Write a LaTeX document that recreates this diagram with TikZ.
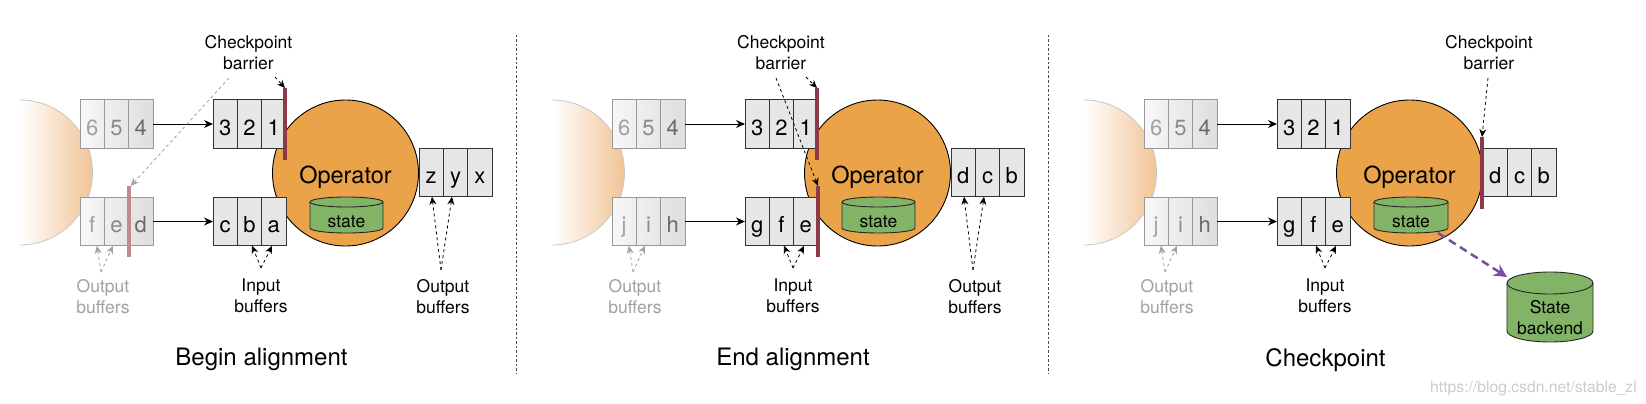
\documentclass[tikz,border=0pt]{standalone}
\usepackage{fontspec}
\setmainfont{TeX Gyre Heros}
\usetikzlibrary{arrows.meta}
\definecolor{opfill}{RGB}{235,163,74}
\definecolor{stgreen}{RGB}{130,179,102}
\definecolor{barr}{RGB}{140,58,72}
\definecolor{barrfade}{RGB}{192,138,147}
\definecolor{peach}{RGB}{241,196,150}
\definecolor{purp}{RGB}{118,80,160}
\definecolor{cellfill}{RGB}{230,230,230}
\tikzset{
  bufcell/.style={draw=black!80, line width=0.9pt, fill=cellfill, minimum width=24.33pt, minimum height=48.5pt, inner sep=0pt, outer sep=0pt, text height=22pt, text depth=0pt, font=\fontsize{22}{26}\selectfont},
  fadecell/.style={bufcell, draw=black!40, fill=none},
  opnode/.style={circle, draw=black, line width=0.9pt, fill=opfill, minimum size=146pt, inner sep=0pt, text height=20.6pt, text depth=0pt, font=\fontsize{23.5}{28}\selectfont},
  barrier/.style={rectangle, fill=barr, draw=none, minimum width=4pt, inner sep=0pt, outer sep=0pt},
  fbarrier/.style={barrier, fill=barrfade},
  lbl/.style={anchor=north, inner sep=0pt, align=center, font=\fontsize{17.5}{21}\selectfont},
  flbl/.style={lbl, text=black!37},
  ttl/.style={anchor=north, inner sep=0pt, font=\fontsize{24}{28}\selectfont},
  flow/.style={draw=black, line width=0.9pt, -{Stealth[length=9pt,width=8pt]}},
  pdash/.style={draw=black, line width=0.8pt, dash pattern=on 3pt off 3pt, -{Stealth[length=8pt,width=7pt]}},
  fdash/.style={pdash, draw=black!37},
  purpdash/.style={draw=purp, line width=2.5pt, dash pattern=on 8pt off 5pt, -{Stealth[length=13pt,width=13pt]}},
  divider/.style={draw=black!70, line width=0.9pt, dash pattern=on 2.5pt off 2pt},
  cyltext/.style={inner sep=0pt, align=center, font=\fontsize{17.5}{21}\selectfont}
}
\newcommand\threecells[7]{%
  \node[#4] (#1a) at (#2+12.17,#3) {#5};
  \node[#4] (#1b) at (#2+36.5,#3) {#6};
  \node[#4] (#1c) at (#2+60.83,#3) {#7};}
\newcommand\fadebuf[6]{%
  \shade[left color=black!3, right color=black!13] (#2,#3-24.25) rectangle (#2+73,#3+24.25);
  \threecells{#1}{#2}{#3}{fadecell}{\color{black!37}#4}{\color{black!46}#5}{\color{black!58}#6}}
\newcommand\source[1]{%
  \begin{scope}
    \clip (#1+20,90) rectangle (#1+100,260);
    \clip (#1+20,172.5) circle[radius=72.5pt];
    \shade[left color=white, right color=peach] (#1+20,100) rectangle (#1+92.5,245);
  \end{scope}
  \begin{scope}
    \clip (#1+20,90) rectangle (#1+100,260);
    \draw[black!22, line width=0.8pt] (#1+20,172.5) circle[radius=72.5pt];
  \end{scope}}
\newcommand\dbcyl[8]{%
  \pgfmathsetmacro\cylrx{(#4-#2)/2}%
  \filldraw[fill=stgreen, draw=black!85, line width=0.9pt] (#2,#3+#6) -- (#2,#5-#6)
    arc[start angle=180, end angle=360, x radius=\cylrx pt, y radius=#6 pt] -- (#4,#3+#6)
    arc[start angle=0, end angle=180, x radius=\cylrx pt, y radius=#6 pt] -- cycle;
  \draw[black!85, line width=0.9pt] (#2,#3+#6) arc[start angle=180, end angle=360, x radius=\cylrx pt, y radius=#6 pt];
  \node[cyltext] (#1) at ({(#2+#4)/2},#8) {#7};}

\begin{document}
\begin{tikzpicture}[x=1pt,y=-1pt]
\useasboundingbox (0,0) rectangle (1646,404);
\fill[white] (0,0) rectangle (1646,404);

% dividers
\coordinate (d1a) at (516,35); \coordinate (d1b) at (516,373);
\coordinate (d2a) at (1048,35); \coordinate (d2b) at (1048,373);
\draw[divider] (d1a) -- (d1b);
\draw[divider] (d2a) -- (d2b);

% ================= Panel 1 =================
\source{0}
\fadebuf{p1ot}{80}{124}{6}{5}{4}
\fadebuf{p1ob}{80}{221.5}{f}{e}{d}
\node[opnode] (p1op) at (345.5,173) {Operator};
\dbcyl{p1st}{310}{197}{383}{233}{5}{state}{221.5}
\threecells{p1it}{213}{124}{bufcell}{3}{2}{1}
\threecells{p1ib}{213}{221.5}{bufcell}{c}{b}{a}
\threecells{p1oo}{419}{172.5}{bufcell}{z}{y}{x}
\node[barrier, minimum height=72pt] (p1bt) at (285,124) {};
\node[fbarrier, minimum height=71pt] (p1bb) at (128.7,221.5) {};
\draw[flow] (p1otc.east) -- (p1ita.west);
\draw[flow] (p1obc.east) -- (p1iba.west);
\node[lbl] (p1cp) at (248.5,35) {Checkpoint\\barrier};
\node[flbl] (p1ol) at (103,279) {Output\\buffers};
\node[lbl] (p1il) at (261,279) {Input\\buffers};
\node[lbl] (p1rl) at (443,279) {Output\\buffers};
\node[ttl] (p1t) at (261.5,348) {Begin alignment};
\coordinate (p1cs1) at (229,78); \coordinate (p1cs2) at (275,77);
\draw[fdash] (p1cs1) -- ([xshift=2pt]p1bb.north);
\draw[pdash] (p1cs2) -- (p1bt.north);
\coordinate (p1os) at (101,272);
\draw[fdash] (p1os) -- ([xshift=4.8pt]p1oba.south);
\draw[fdash] (p1os) -- ([xshift=-3.5pt]p1obb.south);
\coordinate (p1is) at (261,268);
\draw[pdash] (p1is) -- ([xshift=2.5pt]p1ibb.south);
\draw[pdash] (p1is) -- ([xshift=-1.8pt]p1ibc.south);
\coordinate (p1rs) at (441,270);
\draw[pdash] (p1rs) -- ([xshift=0.8pt]p1ooa.south);
\draw[pdash] (p1rs) -- ([xshift=-3.5pt]p1oob.south);

% ================= Panel 2 =================
\source{532}
\fadebuf{p2ot}{612}{124}{6}{5}{4}
\fadebuf{p2ob}{612}{221.5}{j}{i}{h}
\node[opnode] (p2op) at (877.5,173) {Operator};
\dbcyl{p2st}{842}{197}{915}{233}{5}{state}{221.5}
\threecells{p2it}{745}{124}{bufcell}{3}{2}{1}
\threecells{p2ib}{745}{221.5}{bufcell}{g}{f}{e}
\threecells{p2oo}{951}{172.5}{bufcell}{d}{c}{b}
\node[barrier, minimum height=72pt] (p2bt) at (817,124) {};
\node[barrier, minimum height=71pt] (p2bb) at (818,221.5) {};
\draw[flow] (p2otc.east) -- (p2ita.west);
\draw[flow] (p2obc.east) -- (p2iba.west);
\node[lbl] (p2cp) at (781,35) {Checkpoint\\barrier};
\node[flbl] (p2ol) at (635,279) {Output\\buffers};
\node[lbl] (p2il) at (793,279) {Input\\buffers};
\node[lbl] (p2rl) at (975,279) {Output\\buffers};
\node[ttl] (p2t) at (793,348) {End alignment};
\coordinate (p2cs1) at (776,78); \coordinate (p2cs2) at (806,77);
\draw[pdash] (p2cs1) -- (p2bb.north);
\draw[pdash] (p2cs2) -- (p2bt.north);
\coordinate (p2os) at (633,272);
\draw[fdash] (p2os) -- ([xshift=4.8pt]p2oba.south);
\draw[fdash] (p2os) -- ([xshift=-3.5pt]p2obb.south);
\coordinate (p2is) at (793,268);
\draw[pdash] (p2is) -- ([xshift=2.5pt]p2ibb.south);
\draw[pdash] (p2is) -- ([xshift=-1.8pt]p2ibc.south);
\coordinate (p2rs) at (973,270);
\draw[pdash] (p2rs) -- ([xshift=0.8pt]p2ooa.south);
\draw[pdash] (p2rs) -- ([xshift=-3.5pt]p2oob.south);

% ================= Panel 3 =================
\source{1064}
\fadebuf{p3ot}{1144}{124}{6}{5}{4}
\fadebuf{p3ob}{1144}{221.5}{j}{i}{h}
\node[opnode] (p3op) at (1409.5,173) {Operator};
\dbcyl{p3st}{1374}{197}{1448}{233}{5}{state}{221.5}
\threecells{p3it}{1277}{124}{bufcell}{3}{2}{1}
\threecells{p3ib}{1277}{221.5}{bufcell}{g}{f}{e}
\threecells{p3oo}{1483}{172.5}{bufcell}{d}{c}{b}
\node[barrier, minimum height=72pt] (p3b) at (1482,173) {};
\dbcyl{p3sb}{1507}{272}{1593}{342}{11}{State\\backend}{317.5}
\draw[flow] (p3otc.east) -- (p3ita.west);
\draw[flow] (p3obc.east) -- (p3iba.west);
\node[lbl] (p3cp) at (1489,35) {Checkpoint\\barrier};
\node[flbl] (p3ol) at (1167,279) {Output\\buffers};
\node[lbl] (p3il) at (1325,279) {Input\\buffers};
\node[ttl] (p3t) at (1325.5,348) {Checkpoint};
\coordinate (p3cs) at (1488,78);
\draw[pdash] (p3cs) -- (p3b.north);
\coordinate (p3os) at (1165,272);
\draw[fdash] (p3os) -- ([xshift=4.8pt]p3oba.south);
\draw[fdash] (p3os) -- ([xshift=-3.5pt]p3obb.south);
\coordinate (p3is) at (1325,268);
\draw[pdash] (p3is) -- ([xshift=2.5pt]p3ibb.south);
\draw[pdash] (p3is) -- ([xshift=-1.8pt]p3ibc.south);
\coordinate (p3pa) at (1438,233); \coordinate (p3pb) at (1507,277);
\draw[purpdash] (p3pa) -- (p3pb);

% watermark
\node[anchor=base, inner sep=0pt, text=black!20, font=\fontsize{15.7}{18}\selectfont] (wm) at (1533.5,392) {https://blog.csdn.net/stable\_zl};
\end{tikzpicture}
\end{document}
